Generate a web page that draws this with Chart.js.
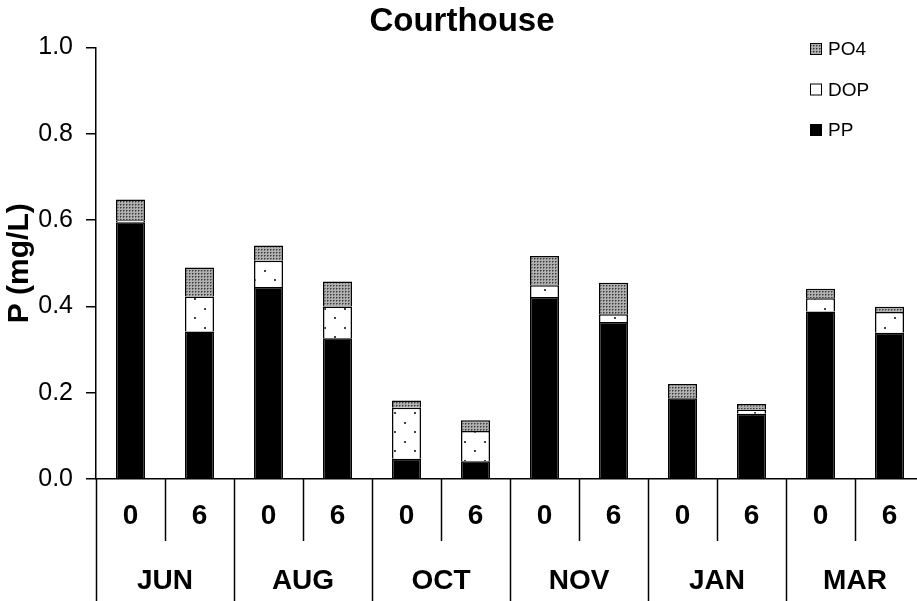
<!DOCTYPE html>
<html>
<head>
<meta charset="utf-8">
<script src="https://cdn.jsdelivr.net/npm/chart.js@4"></script>
<style>
  body { margin: 0; overflow: hidden; background: #fff; }
  #wrap { width: 924px; height: 601px; }
</style>
</head>
<body>
<div id="wrap"><canvas id="chart"></canvas></div>
<script>
const months = ["JUN", "AUG", "OCT", "NOV", "JAN", "MAR"];
const hours = ["0", "6", "0", "6", "0", "6", "0", "6", "0", "6", "0", "6"];
const ppValues = [0.595, 0.342, 0.445, 0.326, 0.047, 0.041, 0.422, 0.364, 0.187, 0.151, 0.388, 0.339];
const dopValues = [0.005, 0.081, 0.061, 0.074, 0.118, 0.070, 0.027, 0.018, 0.000, 0.010, 0.031, 0.048];
const po4Values = [0.048, 0.067, 0.035, 0.058, 0.017, 0.025, 0.068, 0.073, 0.033, 0.013, 0.022, 0.012];

const FONT = "'Liberation Sans', Arial, sans-serif";

function makePattern(w, h, draw) {
    const c = document.createElement("canvas");
    c.width = w;
    c.height = h;
    const g = c.getContext("2d");
    draw(g);
    return g.createPattern(c, "repeat");
}

// grey crosshatch for PO4
const po4Fill = makePattern(3, 3, g => {
    g.fillStyle = "#b0b0b0";
    g.fillRect(0, 0, 3, 3);
    g.fillStyle = "#3c3c3c";
    g.fillRect(0, 0, 1, 1);
    g.fillStyle = "#707070";
    g.fillRect(1, 0, 1, 1);
    g.fillRect(0, 1, 1, 1);
});

// sparse dots for DOP
const dopFill = makePattern(20, 19, g => {
    g.fillStyle = "#fff";
    g.fillRect(0, 0, 20, 19);
    g.fillStyle = "#444";
    g.fillRect(4, 4, 2, 2);
    g.fillRect(14, 13, 2, 2);
});

// month dividers + month names under the hour labels
const dividerPlugin = {
    id: "dividers",
    afterDraw(chart) {
        const ctx = chart.ctx;
        const x = chart.scales.x;
        const bottom = chart.chartArea.bottom;
        ctx.save();
        ctx.strokeStyle = "#000";
        ctx.lineWidth = 1.5;
        for (let i = 0; i <= hours.length; i++) {
            const px = Math.round(x.getPixelForValue(i - 0.5)) + 0.5;
            ctx.beginPath();
            ctx.moveTo(px, bottom);
            ctx.lineTo(px, i % 2 === 0 ? chart.height : bottom + 62);
            ctx.stroke();
        }
        ctx.fillStyle = "#000";
        ctx.font = "bold 28px " + FONT;
        ctx.textAlign = "center";
        ctx.textBaseline = "middle";
        months.forEach((m, i) => {
            ctx.fillText(m, x.getPixelForValue(i * 2 + 0.5), bottom + 102);
        });
        ctx.restore();
    }
};

// legend stacked top-right, PO4 first
const legendPlugin = {
    id: "sideLegend",
    afterDraw(chart) {
        const ctx = chart.ctx;
        const items = chart.data.datasets.slice().reverse();
        ctx.save();
        ctx.font = "19px " + FONT;
        ctx.textBaseline = "middle";
        items.forEach((ds, i) => {
            const cy = 49 + i * 40.5;
            ctx.fillStyle = ds.label === "DOP" ? "#fff" : ds.backgroundColor;
            ctx.fillRect(810, cy - 6, 12, 12);
            ctx.strokeStyle = "#000";
            ctx.lineWidth = 1;
            ctx.strokeRect(810.5, cy - 5.5, 11, 11);
            ctx.fillStyle = "#000";
            ctx.fillText(ds.label, 828, cy + 1);
        });
        ctx.restore();
    }
};

const barStyle = { borderColor: "#000", borderWidth: 1.5, barPercentage: 0.42, categoryPercentage: 1 };

new Chart(document.getElementById("chart"), {
    type: "bar",
    data: {
        labels: hours,
        datasets: [
            { label: "PP", data: ppValues, backgroundColor: "#000", ...barStyle },
            { label: "DOP", data: dopValues, backgroundColor: dopFill, ...barStyle },
            { label: "PO4", data: po4Values, backgroundColor: po4Fill, ...barStyle }
        ]
    },
    options: {
        responsive: true,
        maintainAspectRatio: false,
        animation: false,
        plugins: {
            legend: { display: false },
            tooltip: { enabled: false },
            title: {
                display: true,
                text: "Courthouse",
                color: "#000",
                font: { family: FONT, size: 33, weight: "bold", lineHeight: 1.2 },
                padding: { top: 2, bottom: 6 }
            }
        },
        scales: {
            x: {
                stacked: true,
                grid: { display: false, drawTicks: false },
                border: { display: true, color: "#000", width: 1.5 },
                ticks: { color: "#000", font: { family: FONT, size: 28, weight: "bold" }, padding: 20, maxRotation: 0 },
                afterFit: s => { s.height = 122; }
            },
            y: {
                stacked: true,
                min: 0,
                max: 1,
                grid: { drawOnChartArea: false, drawTicks: true, tickLength: 10, color: "#000", lineWidth: 1.5 },
                border: { display: true, color: "#000", width: 1.5 },
                ticks: {
                    stepSize: 0.2,
                    color: "#000",
                    padding: 13,
                    font: { family: FONT, size: 25 },
                    callback: v => v.toFixed(1)
                },
                title: {
                    display: true,
                    text: "P (mg/L)",
                    color: "#000",
                    font: { family: FONT, size: 30, weight: "bold" },
                    padding: { top: 2, bottom: 0 }
                },
                afterFit: s => { s.width = 96; }
            }
        }
    },
    plugins: [dividerPlugin, legendPlugin]
});
</script>
</body>
</html>
